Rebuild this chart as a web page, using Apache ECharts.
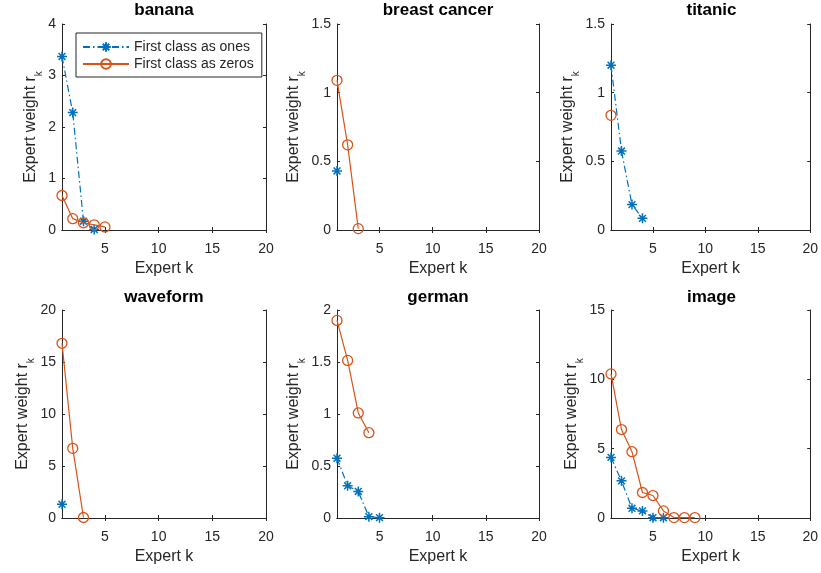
<!DOCTYPE html>
<html>
<head>
<meta charset="utf-8">
<script src="https://cdn.jsdelivr.net/npm/echarts@6/dist/echarts.min.js"></script>
<style>
html,body{margin:0;padding:0;background:#fff;}
#chart{width:821px;height:573px;}
</style>
</head>
<body>
<div id="chart"></div>
<script>
// ---- data ----
const panelTitles = ['banana', 'breast cancer', 'titanic', 'waveform', 'german', 'image'];
const seriesNames = ['First class as ones', 'First class as zeros'];

const bananaOnes = [3.37, 2.28, 0.17, 0.01];
const bananaZeros = [0.67, 0.22, 0.14, 0.10, 0.06];
const breastOnes = [0.43];
const breastZeros = [1.09, 0.62, 0.01];
const titanicOnes = [1.20, 0.575, 0.185, 0.085];
const titanicZeros = [0.835];
const waveformOnes = [1.32];
const waveformZeros = [16.8, 6.7, 0.05];
const germanOnes = [0.575, 0.31, 0.255, 0.013, 0.003];
const germanZeros = [1.90, 1.515, 1.01, 0.82];
const imageOnes = [4.37, 2.68, 0.70, 0.51, 0.02, 0.02];
const imageZeros = [10.39, 6.38, 4.78, 1.84, 1.62, 0.51, 0.03, 0.03, 0.03];

const onesData = [bananaOnes, breastOnes, titanicOnes, waveformOnes, germanOnes, imageOnes];
const zerosData = [bananaZeros, breastZeros, titanicZeros, waveformZeros, germanZeros, imageZeros];

const xMin = 1, xMax = 20;
const xTicks = [5, 10, 15, 20];
const yMax = [4, 1.5, 1.5, 20, 2, 15];
const yStep = [1, 0.5, 0.5, 5, 0.5, 5];

const xName = 'Expert k';
const yName = 'Expert weight r{k|k}';

// ---- layout / style ----
const grids = [
  {left: 62, top: 24, width: 204, height: 206},
  {left: 337, top: 24, width: 202, height: 206},
  {left: 611, top: 24, width: 201, height: 206},
  {left: 62, top: 310, width: 204, height: 208},
  {left: 337, top: 310, width: 202, height: 208},
  {left: 611, top: 310, width: 201, height: 208}
];
const BLUE = '#0072BD', ORANGE = '#D95319', AX = '#262626';
const FONT = 'Liberation Sans, Arial, sans-serif';
const starPath = 'path://M0 5 L10 5 M5 0 L5 10 M1.6 1.6 L8.4 8.4 M8.4 1.6 L1.6 8.4';

const toPairs = arr => arr.map((v, i) => [i + 1, v]);

const option = {
  animation: false,
  backgroundColor: '#fff',
  textStyle: {fontFamily: FONT},
  title: [], grid: [], xAxis: [], yAxis: [], series: [],
  legend: {
    data: seriesNames,
    orient: 'vertical',
    left: 76, top: 33,
    itemWidth: 46, itemHeight: 12, itemGap: 3,
    padding: [7, 8, 6, 6],
    borderColor: AX, borderWidth: 1, borderRadius: 0,
    backgroundColor: '#fff',
    textStyle: {fontSize: 14, color: AX, fontFamily: FONT},
    selectedMode: false
  }
};

grids.forEach((g, i) => {
  option.grid.push(Object.assign({containLabel: false}, g));
  option.title.push({
    text: panelTitles[i],
    left: g.left + g.width / 2, top: i < 3 ? 2 : 289,
    textAlign: 'center', padding: 0,
    textStyle: {fontSize: 17, fontWeight: 'bold', color: '#000', fontFamily: FONT}
  });
  const lineCommon = {show: true, lineStyle: {color: AX, width: 1}};
  // bottom x axis
  option.xAxis.push({
    gridIndex: i, type: 'value', min: xMin, max: xMax, position: 'bottom',
    axisLine: lineCommon,
    axisTick: {show: true, inside: true, length: 3, customValues: xTicks, lineStyle: {color: AX}},
    axisLabel: {show: true, customValues: xTicks, margin: 12, fontSize: 14, color: AX, fontFamily: FONT},
    splitLine: {show: false},
    name: xName, nameLocation: 'middle', nameGap: 31,
    nameTextStyle: {fontSize: 16, color: AX, fontFamily: FONT}
  });
  // top x axis (box + ticks)
  option.xAxis.push({
    gridIndex: i, type: 'value', min: xMin, max: xMax, position: 'top',
    axisLine: lineCommon,
    axisTick: {show: true, inside: true, length: 3, customValues: xTicks, lineStyle: {color: AX}},
    axisLabel: {show: false}, splitLine: {show: false}
  });
  // left y axis
  option.yAxis.push({
    gridIndex: i, type: 'value', min: 0, max: yMax[i], interval: yStep[i], position: 'left',
    axisLine: lineCommon,
    axisTick: {show: true, inside: true, length: 3, lineStyle: {color: AX}},
    axisLabel: {show: true, margin: 6, fontSize: 14, color: AX, fontFamily: FONT},
    splitLine: {show: false},
    name: yName, nameLocation: 'middle', nameGap: 17, nameRotate: 90,
    nameTextStyle: {
      fontSize: 16, color: AX, fontFamily: FONT, lineHeight: 28,
      rich: {k: {fontSize: 10, lineHeight: 10, verticalAlign: 'bottom', color: AX, fontFamily: FONT}}
    }
  });
  // right y axis (box + ticks)
  option.yAxis.push({
    gridIndex: i, type: 'value', min: 0, max: yMax[i], interval: yStep[i], position: 'right',
    axisLine: lineCommon,
    axisTick: {show: true, inside: true, length: 3, lineStyle: {color: AX}},
    axisLabel: {show: false}, splitLine: {show: false}
  });

  option.series.push({
    name: seriesNames[0], type: 'line',
    xAxisIndex: 2 * i, yAxisIndex: 2 * i,
    data: toPairs(onesData[i]),
    symbol: starPath, symbolSize: 10, symbolKeepAspect: true,
    itemStyle: {color: BLUE, borderColor: BLUE, borderWidth: 1.5},
    lineStyle: {color: BLUE, width: 1.2, type: [7, 3, 1.5, 3]},
    z: 2
  });
  option.series.push({
    name: seriesNames[1], type: 'line',
    xAxisIndex: 2 * i, yAxisIndex: 2 * i,
    data: toPairs(zerosData[i]),
    symbol: 'circle', symbolSize: 10,
    itemStyle: {color: 'rgba(255,255,255,0)', borderColor: ORANGE, borderWidth: 1.3},
    lineStyle: {color: ORANGE, width: 1.2, type: 'solid'},
    z: 3
  });
});

const chart = echarts.init(document.getElementById('chart'), null, {renderer: 'canvas'});
chart.setOption(option);
</script>
</body>
</html>
